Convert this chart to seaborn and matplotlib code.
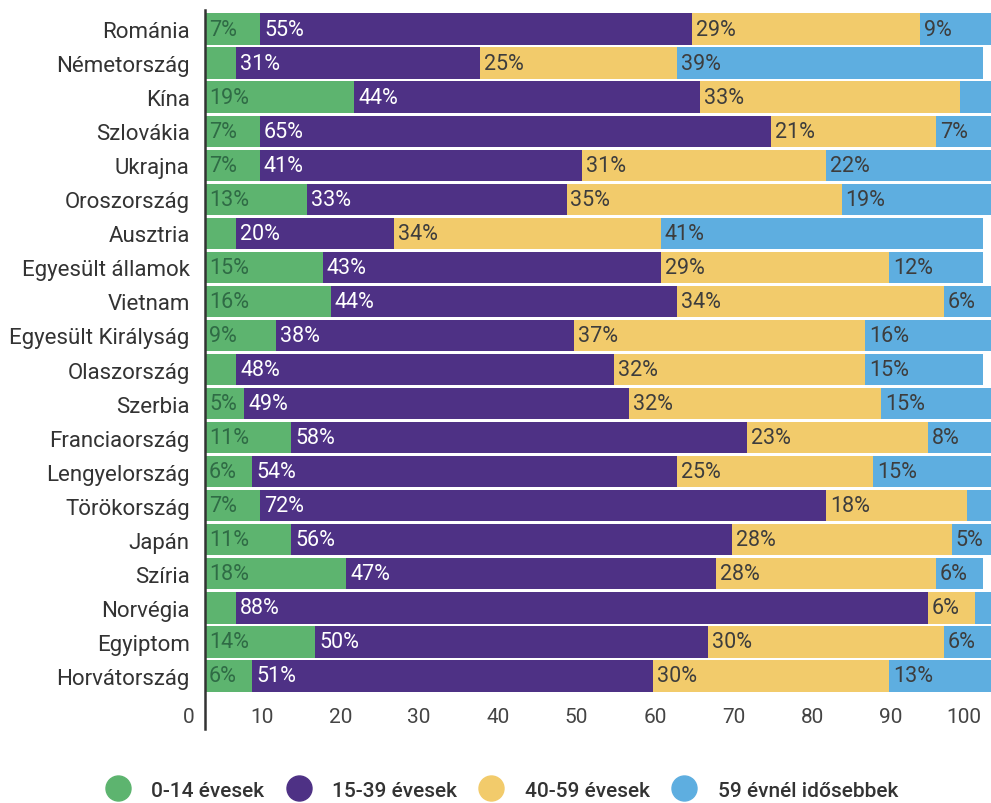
import matplotlib
matplotlib.use('Agg')
import matplotlib.pyplot as plt
import matplotlib.transforms as mtransforms
from matplotlib.lines import Line2D
import seaborn as sns
import numpy as np
import pandas as pd

# ============================================================
# Data: age distribution by country (percent)
# ============================================================
countries = ['Románia', 'Németország', 'Kína', 'Szlovákia', 'Ukrajna', 'Oroszország',
             'Ausztria', 'Egyesült államok', 'Vietnam', 'Egyesült Királyság',
             'Olaszország', 'Szerbia', 'Franciaország', 'Lengyelország', 'Törökország',
             'Japán', 'Szíria', 'Norvégia', 'Egyiptom', 'Horvátország']
age_0_14 = [7, 4, 19, 7, 7, 13, 4, 15, 16, 9, 4, 5, 11, 6, 7, 11, 18, 4, 14, 6]
age_15_39 = [55, 31, 44, 65, 41, 33, 20, 43, 44, 38, 48, 49, 58, 54, 72, 56, 47, 88, 50, 51]
age_40_59 = [29, 25, 33, 21, 31, 35, 34, 29, 34, 37, 32, 32, 23, 25, 18, 28, 28, 6, 30, 30]
age_60_plus = [9, 39, 4, 7, 22, 19, 41, 12, 6, 16, 15, 15, 8, 15, 3, 5, 6, 2, 6, 13]

group_labels = ['0-14 évesek', '15-39 évesek', '40-59 évesek', '59 évnél idősebbek']
group_colors = ['#5db46f', '#4e3185', '#f2cb6b', '#5eaee0']
text_colors = ['#2f6b45', '#ffffff', '#3d3d3d', '#3d3d3d']
x_ticks = [0, 10, 20, 30, 40, 50, 60, 70, 80, 90, 100]

sns.set_style('white')
plt.rcParams['font.family'] = ['Roboto', 'DejaVu Sans']

df = pd.DataFrame({'country': countries, 'g1': age_0_14, 'g2': age_15_39,
                   'g3': age_40_59, 'g4': age_60_plus})
cols = ['g1', 'g2', 'g3', 'g4']
cum = df[cols].cumsum(axis=1)
starts = cum - df[cols]

fig = plt.figure(figsize=(9.91, 8.04), dpi=100)
ax = fig.add_axes([205 / 991, 1 - 694 / 804, 1 - 205 / 991, (694 - 13) / 804])

# stacked bars: draw cumulative totals from the back to the front
for col, color in zip(reversed(cols), reversed(group_colors)):
    sns.barplot(x=cum[col], y=df['country'], orient='h', color=color,
                saturation=1, width=0.92, linewidth=0, ax=ax)

# segment labels
for i in range(len(df)):
    for j, col in enumerate(cols):
        v = df[col].iloc[i]
        if v >= 5:
            ax.text(starts[col].iloc[i] + 0.5, i, f'{v}%', ha='left', va='center',
                    fontsize=15.5, color=text_colors[j])

ax.set_xlim(0, 100)
ax.set_ylim(len(df) - 0.5, -0.5)
ax.set_xlabel('')
ax.set_ylabel('')
ax.set_xticks(x_ticks)
ax.set_xticklabels([str(t) for t in x_ticks])
ax.tick_params(axis='x', length=0, pad=10, labelsize=15, labelcolor='#444444')
ax.tick_params(axis='y', length=0, pad=11, labelsize=16, labelcolor='#333333')

offset = mtransforms.ScaledTranslation(-0.1, 0, fig.dpi_scale_trans)
for lab in ax.get_xticklabels():
    lab.set_horizontalalignment('right')
    lab.set_transform(lab.get_transform() + offset)

for side in ['top', 'right', 'bottom']:
    ax.spines[side].set_visible(False)
ax.spines['left'].set_color('#333333')
ax.spines['left'].set_linewidth(1.8)
ax.spines['left'].set_bounds(-0.55, len(df) + 0.55)

handles = [Line2D([0], [0], marker='o', linestyle='', markersize=18,
                  markerfacecolor=c, markeredgecolor=c) for c in group_colors]
fig.legend(handles, group_labels, ncol=4, loc='center', bbox_to_anchor=(0.502, 0.016),
           frameon=False, handletextpad=0.6, columnspacing=0.65,
           prop={'size': 15, 'weight': 'medium'}, labelcolor='#333333')

plt.savefig('out.png', dpi=100, facecolor='white')
plt.close()
